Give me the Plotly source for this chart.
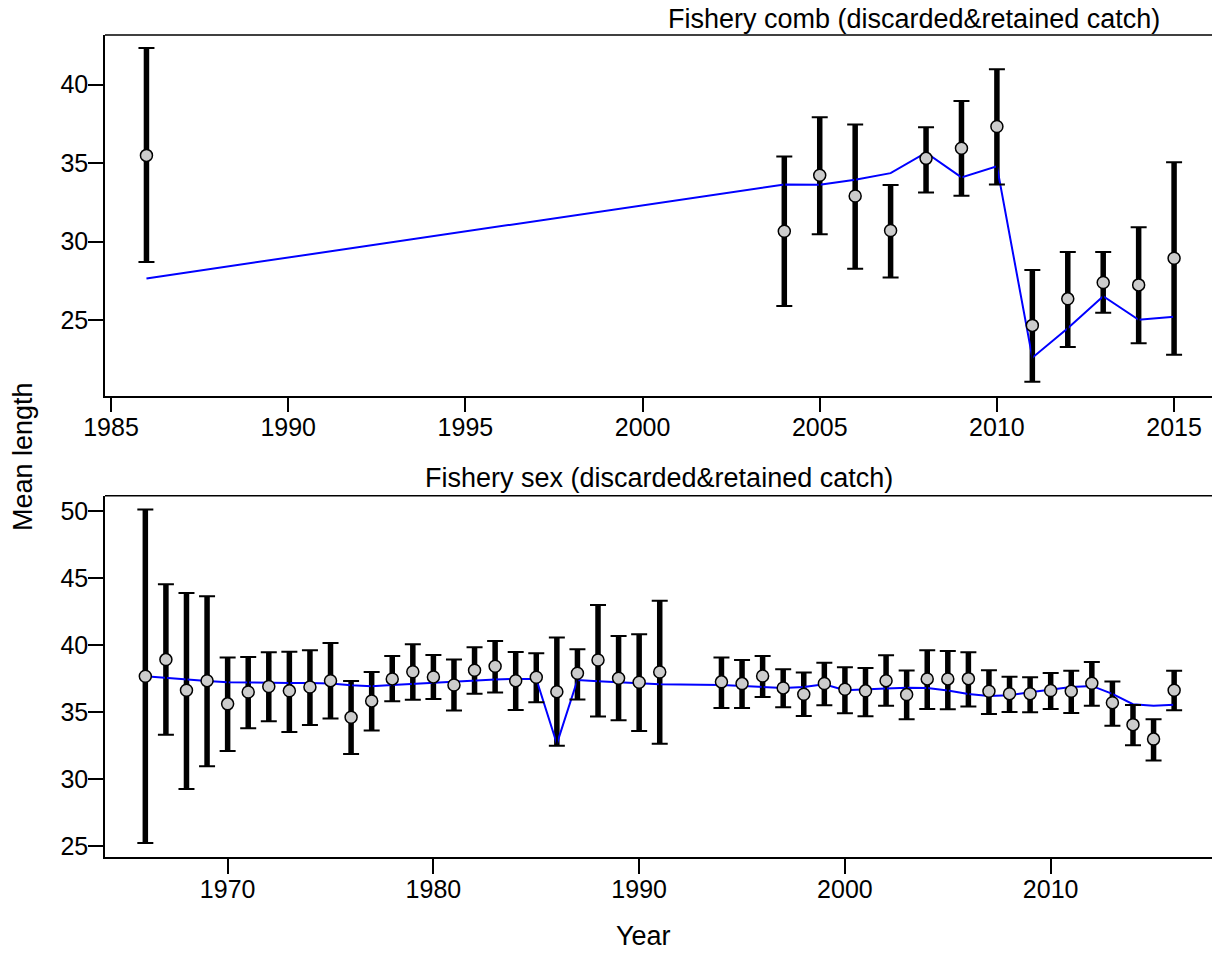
import plotly.graph_objects as go

# -------------------------------
# Dados: painel superior (Fishery comb)
# -------------------------------
anos_comb = [1986, 2004, 2005, 2006, 2007, 2008, 2009, 2010, 2011, 2012, 2013, 2014, 2015]
obs_comb = [35.49, 30.66, 34.23, 32.90, 30.70, 35.30, 35.95, 37.33, 24.66, 26.35, 27.39, 27.24, 28.94]
sup_comb = [42.33, 35.42, 37.92, 37.46, 33.60, 37.29, 38.96, 40.97, 28.19, 29.34, 29.34, 30.91, 35.06]
inf_comb = [28.70, 25.89, 30.46, 28.26, 27.71, 33.13, 32.92, 33.64, 21.07, 23.28, 25.46, 23.52, 22.79]
esp_comb = [27.65, 33.64, 33.62, 33.94, 34.36, 35.66, 34.09, 34.79, 22.60, 24.47, 26.52, 25.02, 25.21]

# -------------------------------
# Dados: painel inferior (Fishery sex)
# -------------------------------
anos_sex = list(range(1966, 1992)) + list(range(1994, 2017))
obs_sex = [37.66, 38.90, 36.62, 37.33, 35.60, 36.49, 36.89, 36.57, 36.86, 37.33,
           34.60, 35.82, 37.46, 38.00, 37.61, 37.00, 38.11, 38.40, 37.33, 37.58,
           36.51, 37.88, 38.87, 37.51, 37.21, 37.98,
           37.24, 37.11, 37.68, 36.79, 36.32, 37.12, 36.69, 36.57, 37.33, 36.29,
           37.46, 37.46, 37.48, 36.54, 36.36, 36.36, 36.59, 36.54, 37.14, 35.69,
           34.05, 32.97, 36.62]
sup_sex = [50.10, 44.51, 43.87, 43.62, 39.05, 39.10, 39.45, 39.49, 39.60, 40.14,
           37.31, 37.98, 39.17, 40.04, 39.25, 38.90, 39.82, 40.29, 39.47, 39.37,
           40.54, 39.67, 42.97, 40.66, 40.79, 43.29,
           39.05, 38.87, 39.17, 38.18, 37.93, 38.67, 38.33, 38.28, 39.22, 38.08,
           39.60, 39.55, 39.45, 38.11, 37.63, 37.58, 37.91, 38.06, 38.73, 37.26,
           35.52, 34.46, 38.06]
inf_sex = [25.22, 33.29, 29.26, 30.95, 32.09, 33.78, 34.31, 33.51, 34.03, 34.50,
           31.87, 33.61, 35.80, 35.90, 35.97, 35.10, 36.36, 36.44, 35.15, 35.72,
           32.47, 35.92, 34.65, 34.38, 33.58, 32.62,
           35.30, 35.30, 36.12, 35.35, 34.70, 35.50, 34.90, 34.68, 35.45, 34.46,
           35.22, 35.20, 35.40, 34.85, 35.00, 34.98, 35.22, 34.92, 35.45, 33.96,
           32.52, 31.37, 35.13]
esp_sex = [37.66, 37.53, 37.41, 37.31, 37.21, 37.18, 37.18, 37.16, 37.16, 37.11,
           36.99, 36.91, 37.01, 37.09, 37.16, 37.29, 37.36, 37.41, 37.46, 37.46,
           32.62, 37.38, 37.29, 37.21, 37.11, 37.06,
           37.01, 36.94, 36.84, 36.79, 36.86, 37.06, 36.62, 36.66, 36.74, 36.81,
           36.79, 36.59, 36.34, 36.19, 36.24, 36.47, 36.69, 36.86, 36.94, 36.34,
           35.57, 35.45, 35.54]

FONTE = dict(family="Liberation Sans, Arial, sans-serif", size=25, color="black")
FONTE_TIT = dict(FONTE, size=27)


def add_painel(fig, anos, obs, sup, inf, esp, xa, ya):
    # hastes grossas dos intervalos
    hx, hy = [], []
    for a, lo, hi in zip(anos, inf, sup):
        hx += [a, a, None]
        hy += [lo, hi, None]
    fig.add_trace(go.Scatter(x=hx, y=hy, mode="lines", xaxis=xa, yaxis=ya,
                             line=dict(color="black", width=5.5), hoverinfo="skip",
                             showlegend=False))
    # valores esperados
    fig.add_trace(go.Scatter(x=anos, y=esp, mode="lines", xaxis=xa, yaxis=ya,
                             line=dict(color="#0000FF", width=2), showlegend=False))
    # observados + barrinhas das pontas
    fig.add_trace(go.Scatter(
        x=anos, y=obs, mode="markers", xaxis=xa, yaxis=ya,
        marker=dict(size=12, color="#CCCCCC", line=dict(color="black", width=1.5)),
        error_y=dict(type="data", symmetric=False,
                     array=[h - o for h, o in zip(sup, obs)],
                     arrayminus=[o - l for o, l in zip(obs, inf)],
                     color="black", thickness=2, width=8),
        showlegend=False))


fig = go.Figure()
add_painel(fig, anos_comb, obs_comb, sup_comb, inf_comb, esp_comb, "x", "y")
add_painel(fig, anos_sex, obs_sex, sup_sex, inf_sex, esp_sex, "x2", "y2")

eixo = dict(showgrid=False, zeroline=False, showline=True, linecolor="black",
            linewidth=1.5, ticks="outside", ticklen=15, tickwidth=1.5,
            tickcolor="black", tickfont=FONTE)
eixo_x = dict(eixo, ticklabelstandoff=-6)
eixo_y = dict(eixo, ticklabelstandoff=-5)

fig.update_layout(
    width=1212, height=953,
    margin=dict(l=105, r=0, t=35, b=96),
    plot_bgcolor="white", paper_bgcolor="white",
    font=FONTE,
    xaxis=dict(eixo_x, domain=[0, 1], anchor="y", range=[1984.83, 2016.07],
               tickmode="linear", tick0=1985, dtick=5),
    yaxis=dict(eixo_y, domain=[0.5612, 1], anchor="x", range=[20.18, 43.16],
               tickmode="linear", tick0=25, dtick=5),
    xaxis2=dict(eixo_x, domain=[0, 1], anchor="y2", range=[1964.04, 2017.84],
                tickmode="linear", tick0=1970, dtick=10),
    yaxis2=dict(eixo_y, domain=[0, 0.4395], anchor="x2", range=[24.18, 51.12],
                tickmode="linear", tick0=25, dtick=5),
)

# linha superior das caixas
for xr, yr in [("x domain", "y domain"), ("x2 domain", "y2 domain")]:
    fig.add_shape(type="line", xref=xr, yref=yr, x0=0, x1=1, y0=1, y1=1,
                  line=dict(color="black", width=1.5))

# títulos e rótulos
fig.add_annotation(text="Fishery comb (discarded&retained catch)", xref="paper", yref="paper",
                   x=0.7308, y=1.019, xanchor="center", yanchor="middle",
                   showarrow=False, font=FONTE_TIT)
fig.add_annotation(text="Fishery sex (discarded&retained catch)", xref="paper", yref="paper",
                   x=0.5005, y=0.4605, xanchor="center", yanchor="middle",
                   showarrow=False, font=FONTE_TIT)
fig.add_annotation(text="Year", xref="paper", yref="paper", x=0.4869, y=-0.1168,
                   xanchor="center", yanchor="bottom", showarrow=False, font=FONTE_TIT)
fig.add_annotation(text="Mean length", xref="paper", yref="paper", x=-0.0741, y=0.4878,
                   xanchor="center", yanchor="middle", textangle=-90,
                   showarrow=False, font=FONTE_TIT)

# remove a margem padrão do <body> para a figura começar em (0, 0)
fig.write_html("out.html", config={"displayModeBar": False},
               post_script="document.body.style.margin='0';")
